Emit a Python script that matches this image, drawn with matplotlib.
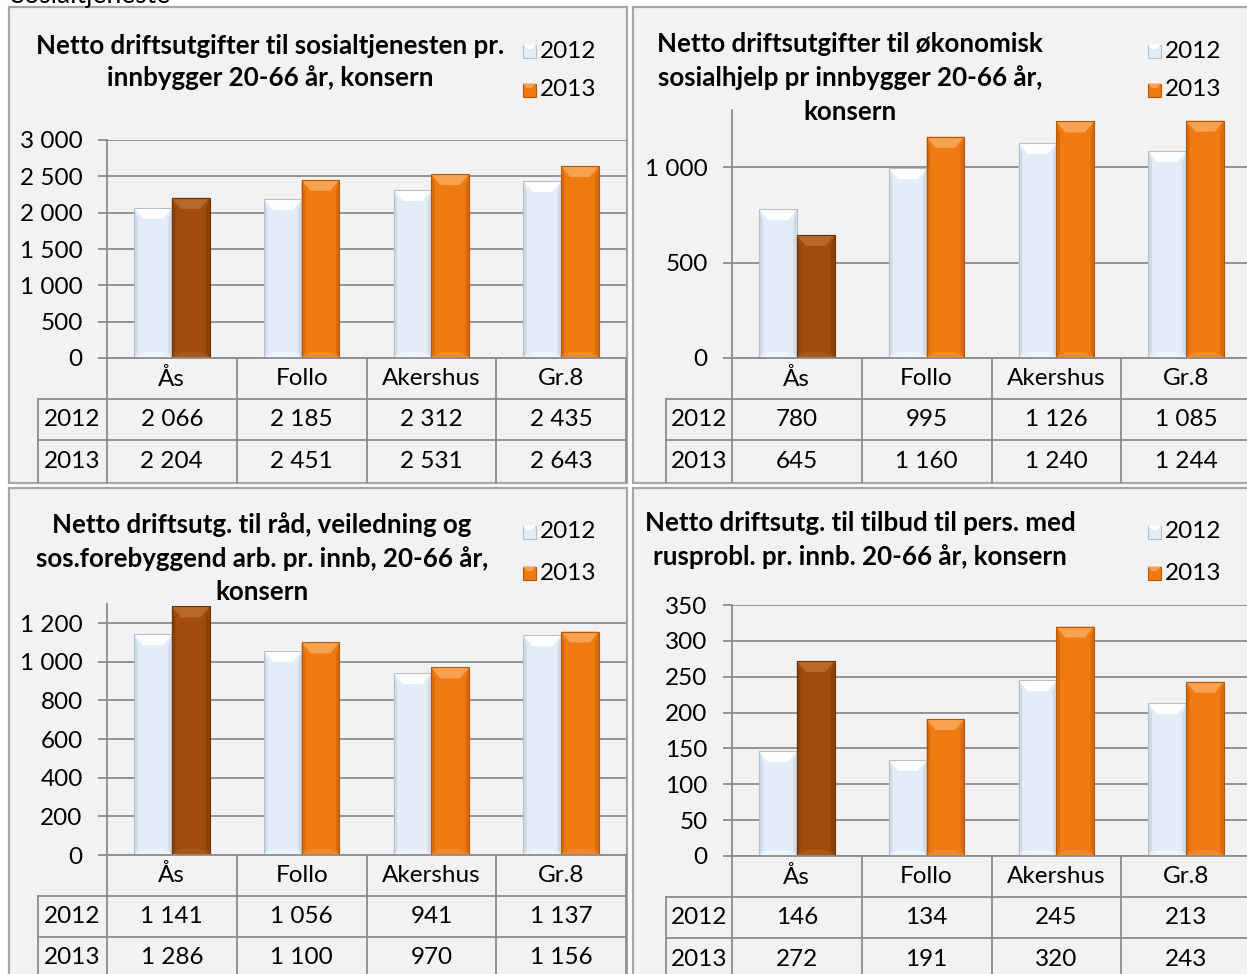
import matplotlib
matplotlib.use("Agg")
import matplotlib.pyplot as plt
import numpy as np
from matplotlib.patches import Rectangle, Polygon
from matplotlib.ticker import FuncFormatter

plt.rcParams['font.family'] = ['Lato', 'DejaVu Sans']

# ---------------- data ----------------
page_title = "Sosialtjeneste"
categories = ["Ås", "Follo", "Akershus", "Gr.8"]
series_names = ["2012", "2013"]
highlight_category = "Ås"

title_1 = ["Netto driftsutgifter til sosialtjenesten pr.", "innbygger 20-66 år, konsern"]
vals_1_2012 = [2066, 2185, 2312, 2435]
vals_1_2013 = [2204, 2451, 2531, 2643]
yticks_1 = [0, 500, 1000, 1500, 2000, 2500, 3000]
ymax_1 = 3000

title_2 = ["Netto driftsutgifter til økonomisk", "sosialhjelp pr innbygger 20-66 år,", "konsern"]
vals_2_2012 = [780, 995, 1126, 1085]
vals_2_2013 = [645, 1160, 1240, 1244]
yticks_2 = [0, 500, 1000]
ymax_2 = 1300

title_3 = ["Netto driftsutg. til råd, veiledning og", "sos.forebyggend arb. pr. innb, 20-66 år,", "konsern"]
vals_3_2012 = [1141, 1056, 941, 1137]
vals_3_2013 = [1286, 1100, 970, 1156]
yticks_3 = [0, 200, 400, 600, 800, 1000, 1200]
ymax_3 = 1300

title_4 = ["Netto driftsutg. til tilbud til pers. med", "rusprobl. pr. innb. 20-66 år, konsern"]
vals_4_2012 = [146, 134, 245, 213]
vals_4_2013 = [272, 191, 320, 243]
yticks_4 = [0, 50, 100, 150, 200, 250, 300, 350]
ymax_4 = 350

# ---------------- layout (pixels) ----------------
W, H = 1247, 974
GRID = '#8c8c8c'
BG = '#f2f2f2'
FS = 17.5
TFS = 18.6

panels = [
    dict(box=(9, 7, 627, 483), ax=(107, 140, 626, 358), lab_left=38, title_c=270,
         title_y=[46, 78], leg_x=523, leg_y=[51, 90],
         title=title_1, v12=vals_1_2012, v13=vals_1_2013, ticks=yticks_1, ymax=ymax_1),
    dict(box=(633, 7, 1256, 483), ax=(732, 110, 1251, 358), lab_left=666, title_c=850,
         title_y=[44, 78, 112], leg_x=1148, leg_y=[51, 90],
         title=title_2, v12=vals_2_2012, v13=vals_2_2013, ticks=yticks_2, ymax=ymax_2),
    dict(box=(9, 488, 627, 985), ax=(107, 603.7, 626, 855), lab_left=38, title_c=262,
         title_y=[525, 559, 592], leg_x=523, leg_y=[532, 573],
         title=title_3, v12=vals_3_2012, v13=vals_3_2013, ticks=yticks_3, ymax=ymax_3),
    dict(box=(633, 488, 1256, 985), ax=(732, 605, 1251, 856), lab_left=666, title_c=860,
         title_y=[523, 557], leg_x=1148, leg_y=[532, 573],
         title=title_4, v12=vals_4_2012, v13=vals_4_2013, ticks=yticks_4, ymax=ymax_4),
]

C12 = dict(face='#e3edf9', edge='#b4c0cc', top='#ffffff', side='#cfdae6', bot='#eef4fb')
C13 = dict(face='#f07a12', edge='#b45808', top='#f6a250', side='#d86a0c', bot='#f28a2a')
CHL = dict(face='#a04c0c', edge='#6a3204', top='#b8662a', side='#8a400a', bot='#a85818')


def fmt(v):
    return f"{int(v):,}".replace(",", " ")


fig = plt.figure(figsize=(W / 100, H / 100), dpi=100)
fig.patch.set_facecolor('white')
cv = fig.add_axes([0, 0, 1, 1], zorder=0)
cv.set_xlim(0, W)
cv.set_ylim(H, 0)
cv.axis('off')

cv.text(10, 2.5, page_title, fontsize=19, ha='left', va='baseline', color='black')


def bevel(ax, p, col, dxpx, dypx):
    x0, w, h = p.get_x(), p.get_width(), p.get_height()
    if h <= 0:
        return
    sx = 9 * dxpx
    ty = min(11 * dypx, h / 3)
    by = min(6 * dypx, h / 4)
    side = 3.5 * dxpx
    ax.add_patch(Polygon([(x0, 0), (x0 + side, by), (x0 + side, h - ty), (x0, h)],
                         closed=True, fc=col['side'], ec='none', zorder=3))
    ax.add_patch(Polygon([(x0 + w, 0), (x0 + w - side, by), (x0 + w - side, h - ty), (x0 + w, h)],
                         closed=True, fc=col['side'], ec='none', zorder=3))
    ax.add_patch(Polygon([(x0, h), (x0 + w, h), (x0 + w - sx, h - ty), (x0 + sx, h - ty)],
                         closed=True, fc=col['top'], ec='none', zorder=3))
    ax.add_patch(Polygon([(x0, 0), (x0 + w, 0), (x0 + w - sx, by), (x0 + sx, by)],
                         closed=True, fc=col['bot'], ec='none', zorder=3))
    ax.add_patch(Rectangle((x0, 0), w, h, fc='none', ec=col['edge'], lw=0.8, zorder=4))


for pn in panels:
    bx0, by0, bx1, by1 = pn['box']
    cv.add_patch(Rectangle((bx0, by0), bx1 - bx0, by1 - by0, fc=BG, ec='#a6a6a6', lw=1.6, zorder=0))

    l, t, r, b = pn['ax']
    ax = fig.add_axes([l / W, 1 - b / H, (r - l) / W, (b - t) / H], zorder=2)
    ax.set_facecolor('none')
    n = len(categories)
    x = np.arange(n)
    bw = 0.29
    cols13 = [CHL['face'] if c == highlight_category else C13['face'] for c in categories]
    bars12 = ax.bar(x - bw, pn['v12'], width=bw, align='edge', color=C12['face'], zorder=2, lw=0)
    bars13 = ax.bar(x, pn['v13'], width=bw, align='edge', color=cols13, zorder=2, lw=0)
    ax.set_xlim(-0.5, n - 0.5)
    ax.set_ylim(0, pn['ymax'])
    dxpx = n / (r - l)
    dypx = pn['ymax'] / (b - t)
    for p in bars12:
        bevel(ax, p, C12, dxpx, dypx)
    for p, c in zip(bars13, categories):
        bevel(ax, p, CHL if c == highlight_category else C13, dxpx, dypx)

    ax.set_yticks(pn['ticks'])
    ax.yaxis.set_major_formatter(FuncFormatter(lambda v, _: fmt(v)))
    ax.set_xticks([])
    ax.tick_params(axis='y', direction='out', length=6.5, width=1.3, color=GRID,
                   labelsize=FS, pad=11)
    ax.yaxis.grid(True, color=GRID, lw=1.3)
    ax.set_axisbelow(True)
    for s in ['top', 'right']:
        ax.spines[s].set_visible(False)
    for s in ['left', 'bottom']:
        ax.spines[s].set_color(GRID)
        ax.spines[s].set_linewidth(1.3)
    ax.spines['bottom'].set_zorder(5)

    for line, ty in zip(pn['title'], pn['title_y']):
        cv.text(pn['title_c'], ty, line, ha='center', va='center', fontsize=TFS,
                fontweight='bold', color='black')
    lx = pn['leg_x']
    for name, ly, col in zip(series_names, pn['leg_y'], [C12, C13]):
        cv.add_patch(Rectangle((lx, ly - 6.5), 13, 13, fc=col['face'], ec=col['edge'], lw=0.8, zorder=3))
        cv.add_patch(Polygon([(lx, ly - 6.5), (lx + 13, ly - 6.5), (lx + 9, ly - 2), (lx + 4, ly - 2)],
                             closed=True, fc=col['top'], ec='none', zorder=4))
        cv.text(lx + 17, ly, name, ha='left', va='center', fontsize=FS, color='black')

    colw = (r - l) / n
    xs = [l + i * colw for i in range(n + 1)]
    rows = [b, b + 41, b + 82, b + 124]
    lab_left = pn['lab_left']
    for xv in xs:
        cv.plot([xv, xv], [rows[0], rows[3]], color=GRID, lw=1.3, zorder=1)
    cv.plot([lab_left, lab_left], [rows[1], rows[3]], color=GRID, lw=1.3, zorder=1)
    for yv in rows[1:3]:
        cv.plot([lab_left, xs[-1]], [yv, yv], color=GRID, lw=1.3, zorder=1)
    for i, c in enumerate(categories):
        cx = (xs[i] + xs[i + 1]) / 2
        cv.text(cx, (rows[0] + rows[1]) / 2, c, ha='center', va='center', fontsize=FS)
        cv.text(cx, (rows[1] + rows[2]) / 2, fmt(pn['v12'][i]), ha='center', va='center', fontsize=FS)
        cv.text(cx, (rows[2] + rows[3]) / 2, fmt(pn['v13'][i]), ha='center', va='center', fontsize=FS)
    lc = (lab_left + l) / 2
    cv.text(lc, (rows[1] + rows[2]) / 2, series_names[0], ha='center', va='center', fontsize=FS)
    cv.text(lc, (rows[2] + rows[3]) / 2, series_names[1], ha='center', va='center', fontsize=FS)

fig.savefig("out.png", dpi=100)
